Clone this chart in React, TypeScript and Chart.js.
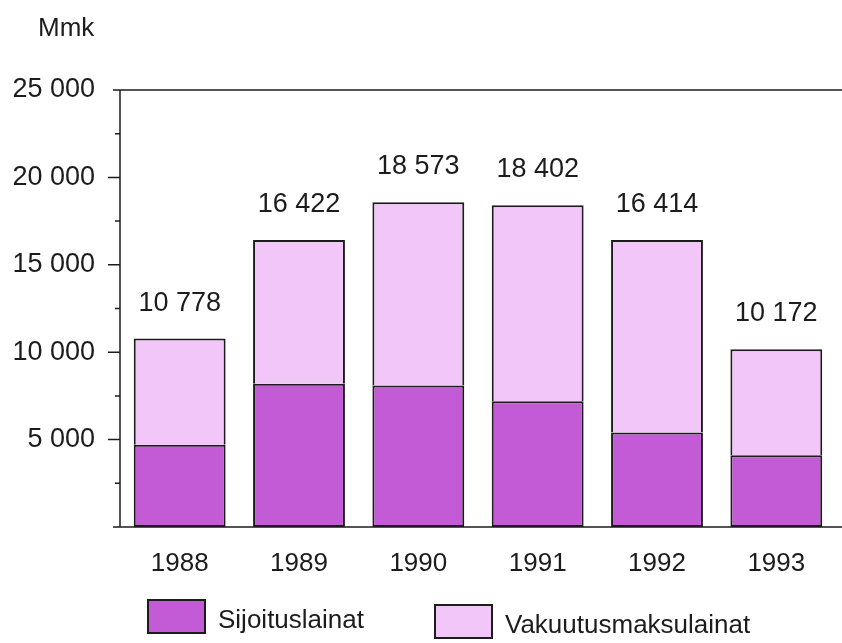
import React, { useEffect, useRef } from "react";
import { Chart, registerables } from "chart.js";

Chart.register(...registerables);

const years = ["1988", "1989", "1990", "1991", "1992", "1993"];
const totals = [10778, 16422, 18573, 18402, 16414, 10172];
const sijoituslainat = [4700, 8200, 8100, 7200, 5400, 4100];
const vakuutusmaksulainat = [6078, 8222, 10473, 11202, 11014, 6072];
const yTickLabels = ["5 000", "10 000", "15 000", "20 000", "25 000"];
const legendLabels = ["Sijoituslainat", "Vakuutusmaksulainat"];
const unitLabel = "Mmk";

const DARK = "#c35ad6";
const LIGHT = "#f2c6f8";
const INK = "#1c1c1c";
const FONT = '"Liberation Sans", Arial, Helvetica, sans-serif';

const decorPlugin = {
  id: "decor",
  afterDraw(chart: any) {
    const { ctx, chartArea, scales } = chart;
    const y = scales.y;
    ctx.save();
    ctx.strokeStyle = INK;
    ctx.lineWidth = 1.5;
    ctx.beginPath();
    ctx.moveTo(chartArea.left, y.getPixelForValue(25000));
    ctx.lineTo(chartArea.left, y.getPixelForValue(0));
    ctx.moveTo(chartArea.left - 7, y.getPixelForValue(0));
    ctx.lineTo(chart.width, y.getPixelForValue(0));
    ctx.moveTo(chartArea.left - 7, y.getPixelForValue(25000));
    ctx.lineTo(chart.width, y.getPixelForValue(25000));
    for (let v = 2500; v < 25000; v += 2500) {
      const py = y.getPixelForValue(v);
      const len = v % 5000 === 0 ? 12 : 5;
      ctx.moveTo(chartArea.left - len, py);
      ctx.lineTo(chartArea.left, py);
    }
    ctx.stroke();

    ctx.fillStyle = INK;
    ctx.font = `27px ${FONT}`;
    ctx.textAlign = "center";
    ctx.textBaseline = "alphabetic";
    const meta = chart.getDatasetMeta(1);
    meta.data.forEach((bar: any, i: number) => {
      const t = totals[i];
      const txt = String(t).replace(/\B(?=(\d{3})+(?!\d))/g, " ");
      ctx.fillText(txt, bar.x, bar.y - 28);
    });

    ctx.textAlign = "left";
    ctx.textBaseline = "middle";
    ctx.font = `26px ${FONT}`;
    ctx.fillText(unitLabel, 38, 29);

    const items = [
      { color: DARK, x: 148, y: 600 },
      { color: LIGHT, x: 435, y: 605 },
    ];
    ctx.font = `26px ${FONT}`;
    items.forEach((it, i) => {
      ctx.fillStyle = it.color;
      ctx.fillRect(it.x, it.y, 57, 33);
      ctx.lineWidth = 2;
      ctx.strokeStyle = INK;
      ctx.strokeRect(it.x, it.y, 57, 33);
      ctx.fillStyle = INK;
      ctx.fillText(legendLabels[i], it.x + 70, it.y + 21);
    });
    ctx.restore();
  },
};

export default function App() {
  const ref = useRef<HTMLCanvasElement>(null);
  useEffect(() => {
    if (!ref.current) return;
    const chart = new Chart(ref.current, {
      type: "bar",
      data: {
        labels: years,
        datasets: [
          {
            label: legendLabels[0],
            data: sijoituslainat,
            backgroundColor: DARK,
            borderColor: INK,
            borderWidth: 2,
            borderSkipped: false,
            barPercentage: 0.77,
            categoryPercentage: 1,
          },
          {
            label: legendLabels[1],
            data: vakuutusmaksulainat,
            backgroundColor: LIGHT,
            borderColor: INK,
            borderWidth: 2,
            borderSkipped: "bottom",
            barPercentage: 0.77,
            categoryPercentage: 1,
          },
        ],
      },
      options: {
        responsive: false,
        animation: false,
        layout: { padding: { top: 90, right: 6, bottom: 0, left: 0 } },
        plugins: { legend: { display: false }, tooltip: { enabled: false } },
        scales: {
          x: {
            stacked: true,
            grid: { display: false, drawTicks: false },
            border: { display: false },
            ticks: { color: INK, font: { size: 26, family: FONT }, padding: 21, maxRotation: 0 },
            afterFit(scale: any) {
              scale.height = 116;
            },
          },
          y: {
            stacked: true,
            min: 0,
            max: 25000,
            grid: { display: false, drawTicks: false },
            border: { display: false },
            ticks: {
              stepSize: 5000,
              color: INK,
              padding: 25,
              font: { size: 27, family: FONT },
              callback: (v: any) => {
                const n = Number(v);
                if (n <= 0 || n % 5000 !== 0) return "";
                return yTickLabels[n / 5000 - 1];
              },
            },
            afterFit(scale: any) {
              scale.width = 120;
            },
          },
        },
      },
      plugins: [decorPlugin],
    });
    return () => chart.destroy();
  }, []);
  return (
    <canvas
      ref={ref}
      width={842}
      height={643}
      style={{ position: "absolute", left: 0, top: 0, width: 842, height: 643 }}
    />
  );
}
